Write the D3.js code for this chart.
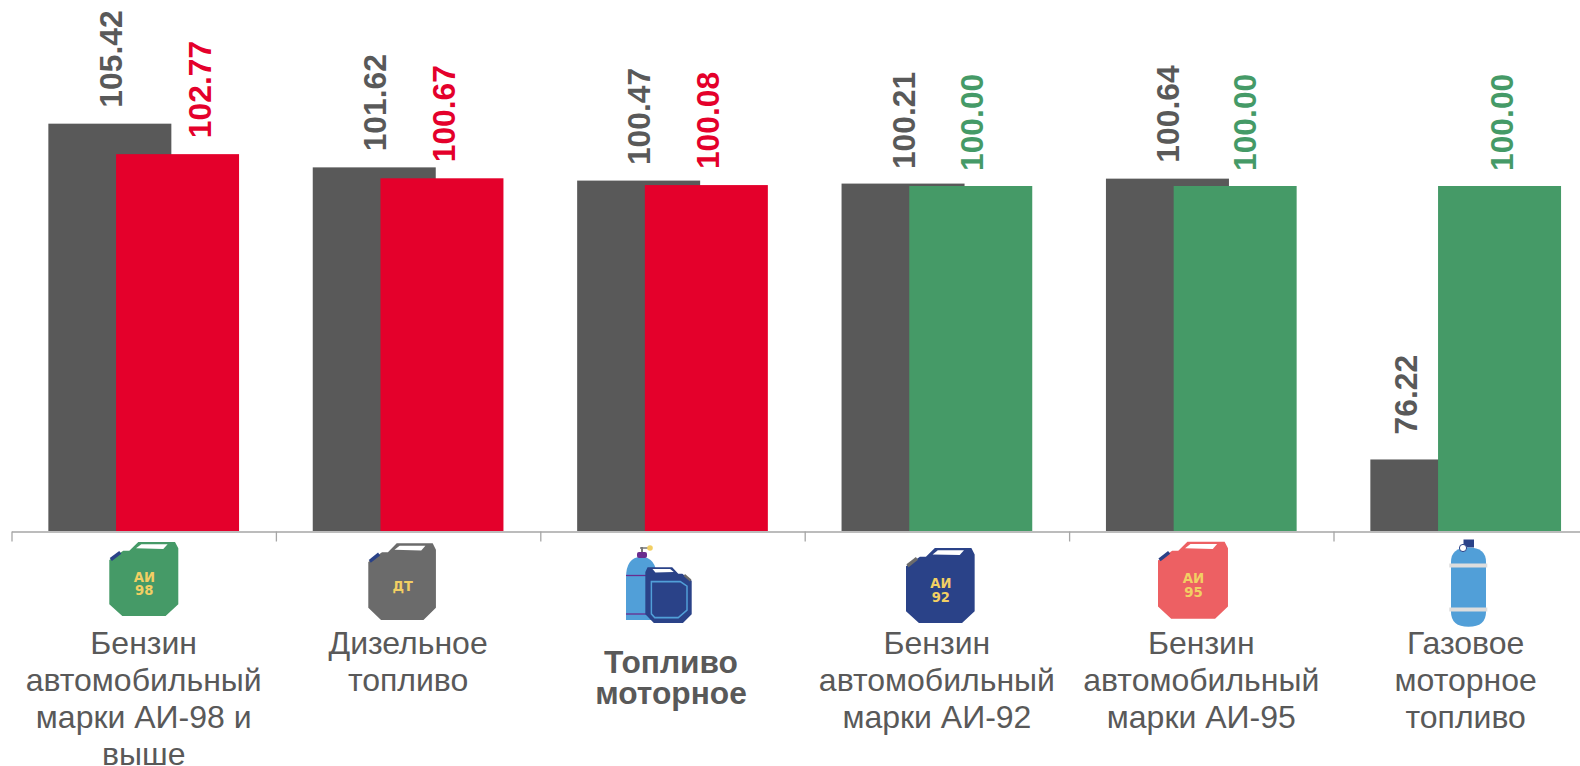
<!DOCTYPE html>
<html><head><meta charset="utf-8">
<script src="https://cdn.jsdelivr.net/npm/d3@7/dist/d3.min.js"></script>
<style>html,body{margin:0;padding:0;background:#fff;overflow:hidden}svg{display:block}</style>
</head><body><svg id="c" width="1580" height="766"></svg>
<script>
const categories = ["ai98","dt","motor","ai92","ai95","gas"];
const categoryLines = [
  ["Бензин","автомобильный","марки АИ-98 и","выше"],
  ["Дизельное","топливо"],
  ["Топливо","моторное"],
  ["Бензин","автомобильный","марки АИ-92"],
  ["Бензин","автомобильный","марки АИ-95"],
  ["Газовое","моторное","топливо"]
];
const seriesGray = [105.42,101.62,100.47,100.21,100.64,76.22];
const seriesColored = [102.77,100.67,100.08,100.00,100.00,100.00];
const valueFormat = d3.format(".2f");

// layout (separate from the data)
const W=1580,H=766,base=531,bandStep=264.4,left=11.5;
const GRAY="#595959",RED="#E4002B",GREEN="#459A67",NAVY="#2A4288",SKY="#519FD8",SALMON="#ED6063",YEL="#F2CF63",MID="#6B6B6B",PURP="#6A2C8E";
const grayNudge=[1,0.7,0.3,0.9,0.5,-26], colorNudge=[22,1.5,1.5,0.7,9.4,1.5];
const grayGap=[16,16,15.5,14.5,16,25], colorGap=[16,16,16,15,15,15];

const svg=d3.select("#c");
const x=d3.scaleBand().domain(categories).range([left,left+6*bandStep]);
const y=d3.scaleLinear().domain([70,116]).range([base,base-46*11.5]);
const barW=123, redOff=67.7;
const colorOf=i=>i<3?RED:GREEN;

// bars
svg.append("g").selectAll("rect").data(seriesGray).join("rect")
  .attr("x",(d,i)=>x(categories[i])+36.85).attr("y",d=>y(d)).attr("width",barW)
  .attr("height",d=>base-y(d)).attr("fill",GRAY);
svg.append("g").selectAll("rect").data(seriesColored).join("rect")
  .attr("x",(d,i)=>x(categories[i])+36.85+redOff).attr("y",d=>y(d)).attr("width",barW)
  .attr("height",d=>base-y(d)).attr("fill",(d,i)=>colorOf(i));

// value labels
function vlabels(data,off,nudge,gap,col){
  svg.append("g").selectAll("text").data(data).join("text")
    .attr("transform",(d,i)=>`translate(${x(categories[i])+36.85+off+barW/2+nudge[i]},${y(d)-gap[i]}) rotate(-90)`)
    .attr("dy","0.36em").attr("font-family","'Liberation Sans',Arial,sans-serif")
    .attr("font-weight","bold").attr("font-size",31.8).attr("fill",col)
    .text(d=>valueFormat(d));
}
vlabels(seriesGray,0,grayNudge,grayGap,()=>GRAY);
vlabels(seriesColored,redOff,colorNudge,colorGap,(d,i)=>colorOf(i));

// axis
const edge=d3.scaleLinear().domain([0,6]).range([left,left+6*bandStep]);
const ax=svg.append("g").attr("transform",`translate(0,${base+0.5})`)
  .call(d3.axisBottom(edge).tickValues([0,1,2,3,4,5]).tickSize(10).tickSizeOuter(0).tickFormat(""));
ax.selectAll("path,line").attr("stroke","#A6A6A6").attr("stroke-width",1.3);

// category labels
categoryLines.forEach((lines,i)=>{
  const bold=i===2, cx=x(categories[i])+x.bandwidth()/2-(bold?1.5:0);
  const y0=bold?672.5:654, lh=bold?31:37;
  svg.append("g").selectAll("text").data(lines).join("text")
    .attr("x",cx).attr("y",(d,k)=>y0+k*lh).attr("text-anchor","middle")
    .attr("font-family","'Liberation Sans',Arial,sans-serif")
    .attr("font-size",bold?31.7:32).attr("font-weight",bold?"bold":"normal")
    .attr("fill",GRAY).text(d=>d);
});

// icons (decorative, in local 69x74 space)
function can(g,fill,handle,t1,t2){
  const P=a=>"M"+a.map(p=>p.join(",")).join("L")+"Z";
  g.append("path").attr("d",P([[0,18],[14,8.7],[20,8.7],[29,0],[65.7,0],[69,6.3],[69,62.3],[56.3,74],[13,74],[0,62.3]])).attr("fill",fill);
  g.append("path").attr("d",P([[26.7,6.3],[32,2.3],[58.3,2.3],[54,7]])).attr("fill","#fff");
  g.append("line").attr("x1",1.5).attr("y1",17.5).attr("x2",11).attr("y2",10.3).attr("stroke",handle).attr("stroke-width",3.5);
  const lab=(t,yy)=>g.append("text").attr("x",35).attr("y",yy).attr("text-anchor","middle")
    .attr("font-family","'DejaVu Sans',sans-serif").attr("font-weight",700).attr("font-size",13.2)
    .attr("fill",YEL).text(t);
  if(t1) lab(t1,t2?39.5:46);
  if(t2) lab(t2,53);
}
const place=(px,py,sx,sy,mirror)=>svg.append("g").attr("transform",`translate(${px},${py}) scale(${mirror?-sx:sx},${sy})`);
can(place(109.3,542,1,1),GREEN,NAVY,"АИ","98");
can(place(368.3,543.3,0.98,1.036),MID,NAVY,"ДТ");
can(place(906,548,0.995,1.014),NAVY,MID,"АИ","92");
can(place(1158,541.7,1.014,1.04),SALMON,NAVY,"АИ","95");

// combined icon
const m=svg.append("g");
m.append("path").attr("d","M626,620V578Q626,557 641,557Q656.7,557 656.7,578V620Z").attr("fill",SKY);
m.append("rect").attr("x",637).attr("y",552).attr("width",10).attr("height",6).attr("rx",2).attr("fill",PURP);
m.append("line").attr("x1",642).attr("y1",552).attr("x2",642).attr("y2",547).attr("stroke","#777").attr("stroke-width",2);
m.append("line").attr("x1",640).attr("y1",548).attr("x2",648).attr("y2",548).attr("stroke","#777").attr("stroke-width",1.5);
m.append("circle").attr("cx",650).attr("cy",548).attr("r",2.8).attr("fill",YEL);
m.append("line").attr("x1",626).attr("y1",575.5).attr("x2",648).attr("y2",575.5).attr("stroke",PURP).attr("stroke-width",1.3);
m.append("line").attr("x1",626).attr("y1",614).attr("x2",648).attr("y2",614).attr("stroke",PURP).attr("stroke-width",1.3);
const mc=place(691.7,567.3,0.672,0.752,true);
mc.append("path").attr("d","M0,18L14,8.7L20,8.7L29,0L65.7,0L69,6.3L69,62.3L56.3,74L13,74L0,62.3Z").attr("fill",NAVY);
mc.append("path").attr("d","M26.7,6.3L32,2.3L58.3,2.3L54,7Z").attr("fill","#fff");
mc.append("line").attr("x1",1.5).attr("y1",17.5).attr("x2",11).attr("y2",10.3).attr("stroke",MID).attr("stroke-width",3.5);
mc.append("path").attr("d","M7,25L17,19H60V62L55,67H20L7,57Z").attr("fill","none").attr("stroke",SKY).attr("stroke-width",2.2);

// gas cylinder icon
const c=svg.append("g");
c.append("rect").attr("x",1463.5).attr("y",539.5).attr("width",10.5).attr("height",8).attr("fill",NAVY);
c.append("path").attr("d","M1451,562Q1451,547.5 1468.5,547.5Q1486,547.5 1486,562V612Q1486,626.7 1468.5,626.7Q1451,626.7 1451,612Z").attr("fill",SKY);
c.append("rect").attr("x",1449.3).attr("y",563.5).attr("width",38).attr("height",4).attr("fill","#DDDDDD");
c.append("rect").attr("x",1449.3).attr("y",607.5).attr("width",38).attr("height",4).attr("fill","#DDDDDD");
c.append("circle").attr("cx",1463).attr("cy",548).attr("r",3.6).attr("fill","#fff").attr("stroke",NAVY).attr("stroke-width",1);
</script></body></html>
